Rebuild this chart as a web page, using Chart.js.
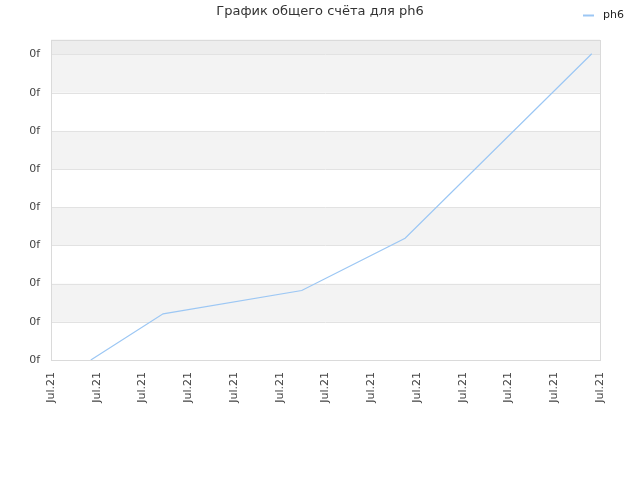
<!DOCTYPE html>
<html>
<head>
<meta charset="utf-8">
<script src="https://cdn.jsdelivr.net/npm/chart.js@4/dist/chart.umd.min.js"></script>
<style>
    html, body { margin: 0; padding: 0; background: #fff; }
</style>
</head>
<body>
<canvas id="scoreChart" width="640" height="480"></canvas>
<script>
// Data (x in label steps, y in grid steps)
const tickLabels = ["Jul.21", "Jul.21", "Jul.21", "Jul.21", "Jul.21", "Jul.21", "Jul.21",
                    "Jul.21", "Jul.21", "Jul.21", "Jul.21", "Jul.21", "Jul.21"];
const seriesX = [0.87, 2.45, 5.48, 7.74, 11.82];
const seriesY = [0, 1.21, 1.82, 3.19, 8.02];
const yTickLabel = "0f";
const seriesName = "ph6";
const lineColor = "#9cc7f4";

document.addEventListener("DOMContentLoaded", () => {
    Chart.defaults.font.family = "'DejaVu Sans', Verdana, sans-serif";
    Chart.defaults.color = "#444";

    // Alternating bands, frame and legend
    const backdrop = {
        id: "backdrop",
        beforeDatasetsDraw(chart) {
            const { ctx, chartArea: a, scales: { y } } = chart;
            ctx.save();
            for (let v = 1; v < 8; v += 2) {
                const top = y.getPixelForValue(v + 1), bot = y.getPixelForValue(v);
                ctx.fillStyle = "#f3f3f3";
                ctx.fillRect(a.left, top, a.right - a.left, bot - top);
            }
            ctx.fillStyle = "#ededed";
            ctx.fillRect(a.left, a.top, a.right - a.left, y.getPixelForValue(8) - a.top);
            ctx.strokeStyle = "#e2e2e2";
            ctx.lineWidth = 1;
            for (let v = 1; v <= 8; v++) {
                const py = Math.round(y.getPixelForValue(v)) + 0.5;
                ctx.beginPath();
                ctx.moveTo(a.left, py);
                ctx.lineTo(a.right, py);
                ctx.stroke();
            }
            ctx.strokeStyle = "#dadada";
            ctx.strokeRect(Math.round(a.left) + 0.5, Math.round(a.top) + 0.5,
                Math.round(a.right - a.left), Math.round(a.bottom - a.top));
            ctx.restore();
        },
        afterDraw(chart) {
            const ctx = chart.ctx;
            ctx.save();
            ctx.strokeStyle = lineColor;
            ctx.lineWidth = 2;
            ctx.beginPath();
            ctx.moveTo(583, 15.5);
            ctx.lineTo(594, 15.5);
            ctx.stroke();
            ctx.fillStyle = "#222";
            ctx.font = "11px 'DejaVu Sans', Verdana, sans-serif";
            ctx.textBaseline = "middle";
            ctx.fillText(seriesName, 603, 15);
            ctx.restore();
        }
    };

    new Chart(document.getElementById("scoreChart"), {
        type: "line",
        data: {
            datasets: [{
                label: seriesName,
                data: seriesX.map((x, i) => ({ x: x, y: seriesY[i] })),
                borderColor: lineColor,
                borderWidth: 1.2,
                pointRadius: 0,
                tension: 0,
                fill: false
            }]
        },
        options: {
            responsive: false,
            animation: false,
            layout: { padding: 0 },
            scales: {
                x: {
                    type: "linear",
                    min: 0,
                    max: tickLabels.length - 1,
                    grid: { display: false, drawTicks: false },
                    border: { display: false },
                    afterFit: (s) => { s.height = 120; },
                    ticks: {
                        stepSize: 1,
                        padding: 12,
                        maxRotation: 90,
                        minRotation: 90,
                        color: "#444",
                        font: { size: 11 },
                        callback: (v) => tickLabels[v] ?? ""
                    }
                },
                y: {
                    min: 0,
                    max: 8.39,
                    grid: { display: false, drawTicks: false },
                    border: { display: false },
                    afterFit: (s) => { s.width = 51; },
                    afterBuildTicks: (s) => {
                        s.ticks = s.ticks.filter(t => Number.isInteger(t.value));
                    },
                    ticks: {
                        stepSize: 1,
                        padding: 11,
                        color: "#444",
                        font: { size: 11 },
                        callback: () => yTickLabel
                    }
                },
                // empty right-hand margin so the title stays centred on the page
                spacer: {
                    type: "linear",
                    position: "right",
                    display: true,
                    grid: { display: false, drawTicks: false },
                    border: { display: false },
                    ticks: { display: false },
                    afterFit: (s) => { s.width = 40; }
                }
            },
            plugins: {
                legend: { display: false },
                tooltip: { enabled: false },
                title: {
                    display: true,
                    text: "График общего счёта для ph6",
                    color: "#333",
                    font: { size: 13, weight: "normal" },
                    padding: { top: 4, bottom: 20 }
                }
            }
        },
        plugins: [backdrop]
    });
});
</script>
</body>
</html>
